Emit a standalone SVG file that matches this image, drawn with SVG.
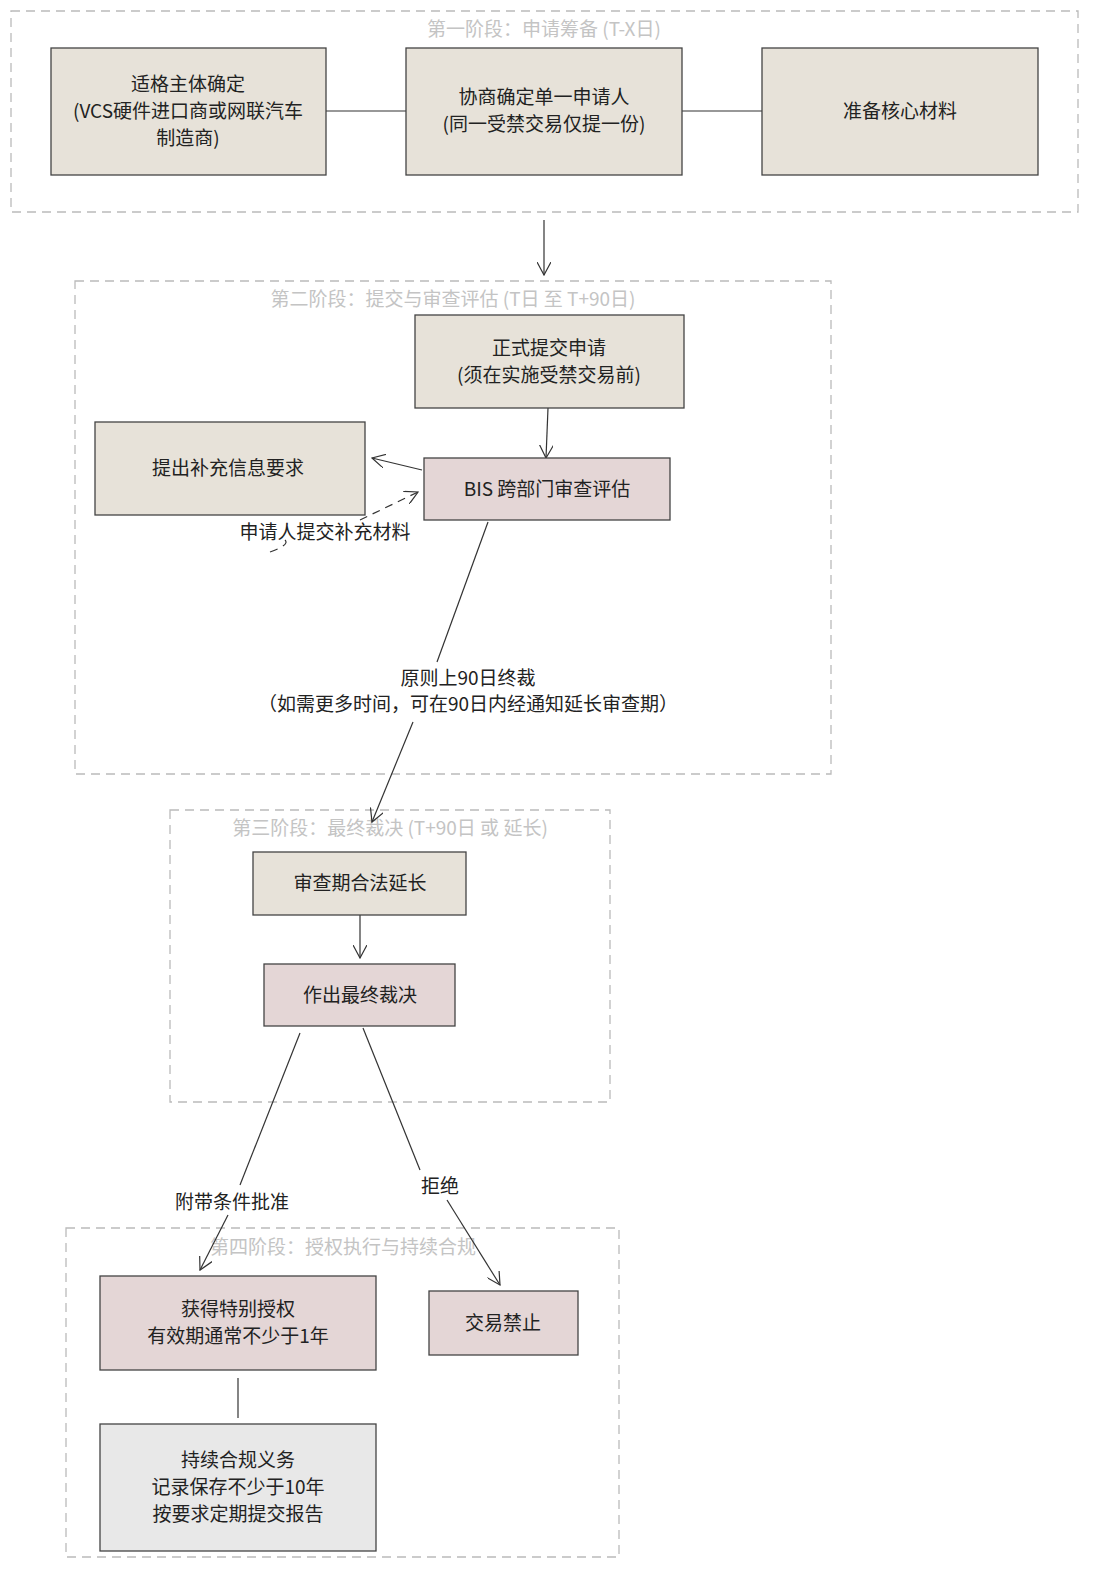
<svg xmlns="http://www.w3.org/2000/svg" width="1099" height="1583" viewBox="0 0 1099 1583">
<style>
text{font-family:"Noto Sans CJK SC","Noto Sans",sans-serif;font-size:19px;fill:#222;text-anchor:middle}
.cl{fill:none;stroke:#bbb;stroke-width:1.3;stroke-dasharray:9 6}
.ct{fill:#c4c4c4}
.n{stroke:#444;stroke-width:1.3}
.b{fill:#e7e2d9}.p{fill:#e4d6d6}.g{fill:#e8e8e8}
.e{fill:none;stroke:#333;stroke-width:1.2}
.d{stroke-dasharray:8 6}
</style>
<defs><marker id="a" viewBox="0 0 14 14" refX="13" refY="7" markerWidth="14" markerHeight="14" markerUnits="userSpaceOnUse" orient="auto"><path d="M0,0 L13,7 L0,14" fill="none" stroke="#333" stroke-width="1.2"/></marker></defs>
<g id="clusters">
<rect class="cl" x="11" y="11" width="1067" height="201"/><text class="ct" x="544" y="36">第一阶段：申请筹备 (T-X日)</text>
<rect class="cl" x="75" y="281" width="756" height="493"/><text class="ct" x="453" y="306">第二阶段：提交与审查评估 (T日 至 T+90日)</text>
<rect class="cl" x="170" y="810" width="440" height="292"/><text class="ct" x="390" y="835">第三阶段：最终裁决 (T+90日 或 延长)</text>
<rect class="cl" x="66" y="1228" width="553" height="329"/><text class="ct" x="343" y="1254">第四阶段：授权执行与持续合规</text>
</g>
<g id="edges">
<line class="e" x1="326" y1="111" x2="406" y2="111"/>
<line class="e" x1="682" y1="111" x2="762" y2="111"/>
<line class="e" x1="544" y1="220" x2="544" y2="275" marker-end="url(#a)"/>
<line class="e" x1="548" y1="408" x2="546" y2="458" marker-end="url(#a)"/>
<line class="e" x1="422" y1="470" x2="372" y2="458" marker-end="url(#a)"/>
<path class="e d" d="M270,552 Q290,545 285,540 M360,520 L418,492" marker-end="url(#a)"/>
<line class="e" x1="488" y1="522" x2="437" y2="662"/>
<line class="e" x1="413" y1="722" x2="372" y2="822" marker-end="url(#a)"/>
<line class="e" x1="360" y1="915" x2="360" y2="958" marker-end="url(#a)"/>
<line class="e" x1="300" y1="1033" x2="240" y2="1185"/>
<line class="e" x1="228" y1="1215" x2="200" y2="1270" marker-end="url(#a)"/>
<line class="e" x1="363" y1="1028" x2="420" y2="1170"/>
<line class="e" x1="447" y1="1200" x2="500" y2="1285" marker-end="url(#a)"/>
<line class="e" x1="238" y1="1378" x2="238" y2="1418"/>
<text x="325" y="539">申请人提交补充材料</text>
<text x="468" y="685">原则上90日终裁</text>
<text x="468" y="711">（如需更多时间，可在90日内经通知延长审查期）</text>
<text x="232" y="1209">附带条件批准</text>
<text x="440" y="1193">拒绝</text>
</g>
<g id="n1"><rect class="n b" x="51" y="48" width="275" height="127"/><text x="188" y="91">适格主体确定</text><text x="188" y="118">(VCS硬件进口商或网联汽车</text><text x="188" y="145">制造商)</text></g>
<g id="n2"><rect class="n b" x="406" y="48" width="276" height="127"/><text x="544" y="104">协商确定单一申请人</text><text x="544" y="131">(同一受禁交易仅提一份)</text></g>
<g id="n3"><rect class="n b" x="762" y="48" width="276" height="127"/><text x="900" y="118">准备核心材料</text></g>
<g id="n4"><rect class="n b" x="415" y="315" width="269" height="93"/><text x="549" y="355">正式提交申请</text><text x="549" y="382">(须在实施受禁交易前)</text></g>
<g id="n5"><rect class="n p" x="424" y="458" width="246" height="62"/><text x="547" y="496">BIS 跨部门审查评估</text></g>
<g id="n6"><rect class="n b" x="95" y="422" width="270" height="93"/><text x="228" y="475">提出补充信息要求</text></g>
<g id="n7"><rect class="n b" x="253" y="852" width="213" height="63"/><text x="360" y="890">审查期合法延长</text></g>
<g id="n8"><rect class="n p" x="264" y="964" width="191" height="62"/><text x="360" y="1002">作出最终裁决</text></g>
<g id="n9"><rect class="n p" x="100" y="1276" width="276" height="94"/><text x="238" y="1316">获得特别授权</text><text x="238" y="1343">有效期通常不少于1年</text></g>
<g id="n10"><rect class="n p" x="429" y="1291" width="149" height="64"/><text x="503" y="1330">交易禁止</text></g>
<g id="n11"><rect class="n g" x="100" y="1424" width="276" height="127"/><text x="238" y="1467">持续合规义务</text><text x="238" y="1494">记录保存不少于10年</text><text x="238" y="1521">按要求定期提交报告</text></g>
</svg>
